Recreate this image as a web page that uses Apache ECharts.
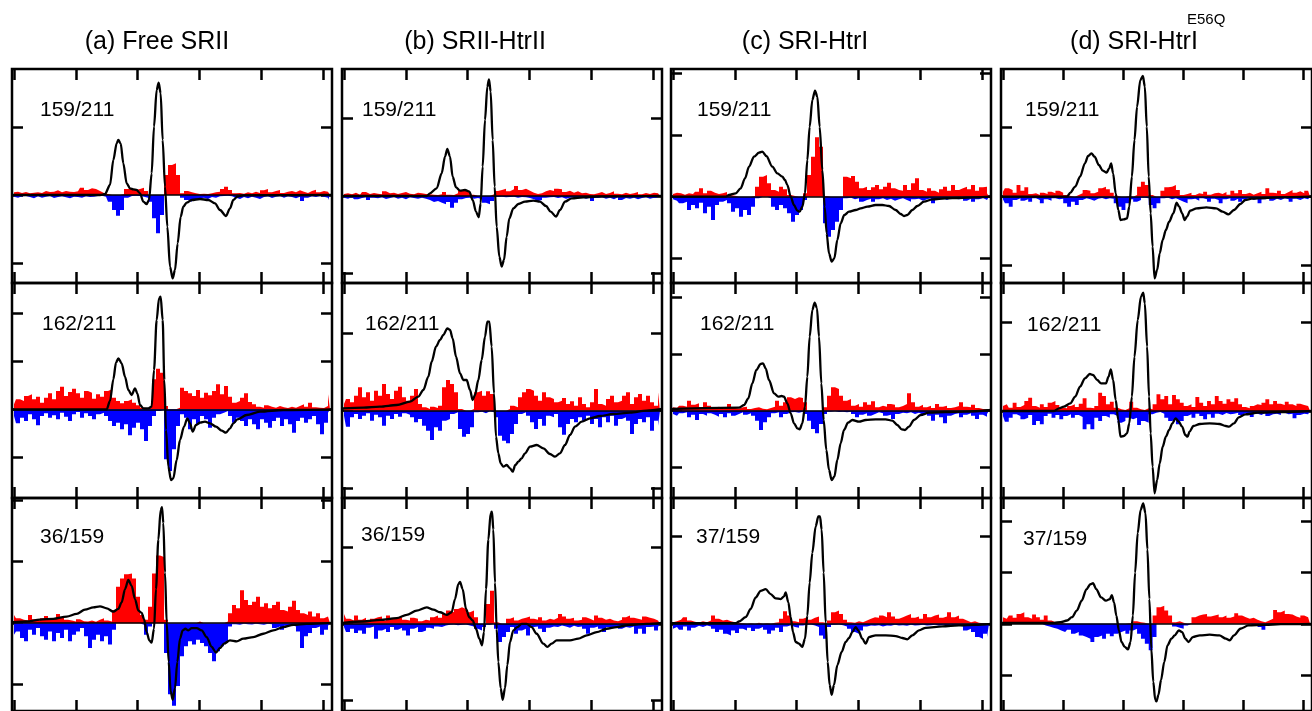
<!DOCTYPE html>
<html>
<head>
<meta charset="utf-8">
<title>EPR spectra with residuals</title>
<script src="https://cdn.jsdelivr.net/npm/echarts@6.0.0/dist/echarts.min.js"></script>
<style>
html,body{margin:0;padding:0;background:#fff}
#chart{width:1312px;height:711px}
</style>
</head>
<body>
<div id="chart"></div>
<script>
// residual bins: field position of each bin (80 bins across the sweep)
var binField = [];
for (var i = 0; i < 80; i++) binField.push(42 + 12 * i);

// ---- row 1 : 159/211 ----
var red_a1 = [8,10,6,9,5,7,8,6,12,9, 10,14,8,12,10,9,11,22,15,20, 18,12,6,3,0,0,0,2,18,20,
  15,18,22,12,0,0,0,0,60,90, 95,60,5,12,8,5,3,4,3,5, 8,10,18,25,15,5,6,4,8,5,
  10,6,14,18,8,12,15,6,10,12, 8,14,10,6,12,16,8,12,10,14];
var blue_a1 = [-5,-8,-4,-3,-6,-10,-4,-8,-5,-3, -9,-6,-4,-7,-10,-5,-6,-8,-4,-6, -5,-3,-2,-5,-20,-45,-62,-45,-8,-3,
  -2,-3,-5,-8,-20,-70,-115,-60,0,0, 0,0,-8,-15,-20,-12,-10,-8,-12,-6, -8,-4,-3,-2,-4,-8,-12,-6,-10,-5,
  -8,-12,-6,-4,-9,-5,-3,-8,-4,-6, -10,-5,-18,-8,-4,-6,-3,-5,-8,-15];
var line_a1 = [[38,0],[300,0],[315,3],[330,30],[340,105],[350,155],[355,165],[362,155],[370,95],[380,35],[390,20],[400,17],[410,15],[420,5],[430,-20],[440,-27],[447,-15],[455,65],[462,205],[470,315],[476,337],[482,305],[488,165],[495,25],[502,-95],[510,-215],[518,-250],[525,-225],[533,-145],[542,-65],[550,-35],[560,-23],[575,-15],[600,-12],[625,-15],[645,-25],[660,-45],[678,-63],[690,-40],[700,-15],[712,-5],[730,-1],[996,0]];

var red_b1 = [6,8,5,10,4,12,6,9,7,5, 14,8,10,6,9,12,7,5,10,8, 6,5,4,3,5,12,4,3,8,15,
  18,12,4,0,0,0,0,5,15,18, 22,14,20,30,18,22,16,10,6,8, 14,18,15,22,20,12,16,10,14,8,
  10,6,5,8,12,6,9,14,7,5, 10,6,8,12,5,9,6,10,8,12];
var blue_b1 = [-5,-8,-3,-10,-6,-4,-12,-5,-7,-4, -9,-6,-3,-8,-5,-10,-4,-6,-8,-5, -8,-12,-18,-15,-20,-25,-18,-35,-20,-10,
  -6,-5,-8,-6,-10,-20,-25,-15,-3,-2, -4,-3,-2,-5,-3,-4,-6,-10,-15,-12, -5,-4,-3,-6,-4,-8,-5,-3,-6,-4,
  -8,-5,-15,-6,-4,-8,-5,-10,-4,-12, -6,-8,-5,-10,-6,-4,-8,-5,-6,-4];
var line_b1 = [[38,0],[290,0],[300,8],[320,23],[335,68],[345,118],[352,141],[360,118],[368,58],[378,26],[390,16],[405,18],[418,13],[428,-12],[438,-47],[446,-64],[452,-22],[458,88],[465,228],[472,328],[477,350],[482,313],[488,168],[494,28],[500,-92],[508,-182],[515,-212],[522,-192],[530,-122],[538,-67],[550,-37],[565,-24],[585,-17],[610,-14],[630,-17],[648,-30],[662,-47],[678,-62],[690,-42],[705,-17],[725,-7],[760,-4],[800,-2],[996,0]];

var red_c1 = [8,12,10,6,10,8,15,25,10,18, 12,8,10,14,4,3,0,0,0,0, 2,30,60,65,40,20,15,30,22,5,
  2,0,0,10,65,120,178,150,2,0, 0,0,0,60,55,62,45,25,30,20, 28,35,22,30,42,25,20,18,35,20,
  40,55,20,15,25,18,12,22,30,18, 35,20,25,30,22,35,18,28,30,10];
var blue_c1 = [-8,-12,-20,-15,-40,-25,-35,-18,-50,-30, -70,-25,-15,-10,-20,-45,-35,-60,-40,-55, -30,-5,0,0,-5,-30,-40,-25,-35,-50,
  -75,-55,-40,-10,0,0,0,0,-80,-120, -100,-75,-40,-5,-3,-8,-5,-15,-10,-6, -15,-8,-5,-10,-6,-12,-8,-5,-10,-15,
  -8,-6,-12,-8,-5,-20,-8,-5,-10,-4, -6,-8,-5,-12,-6,-15,-8,-4,-10,-5];
var line_c1 = [[38,0],[200,0],[210,5],[230,10],[245,25],[258,55],[270,90],[285,120],[300,132],[310,135],[322,122],[340,90],[355,70],[370,60],[378,50],[385,35],[395,0],[405,-25],[415,-42],[422,-45],[430,-30],[438,10],[445,110],[452,210],[460,290],[468,318],[475,300],[482,210],[490,80],[497,-30],[503,-110],[510,-170],[518,-195],[526,-185],[535,-130],[545,-80],[556,-55],[570,-45],[590,-40],[605,-35],[625,-30],[650,-25],[670,-25],[690,-28],[710,-40],[725,-52],[735,-58],[745,-55],[760,-40],[775,-28],[795,-15],[820,-8],[860,-5],[900,-4],[950,-2],[996,0]];

var red_d1 = [15,25,20,12,35,18,28,8,10,5, 12,8,15,10,18,12,5,2,0,5, 10,20,18,10,15,25,30,22,12,3,
  0,0,2,0,5,30,45,35,5,0, 0,18,28,30,35,20,5,8,12,5, 10,8,15,6,10,12,8,14,6,18,
  10,20,8,12,6,10,15,8,25,12, 10,18,8,14,20,12,16,10,18,12];
var blue_d1 = [-8,-20,-30,-10,-5,-12,-8,-15,-5,-10, -20,-8,-12,-5,-8,-6,-20,-30,-15,-25, -10,-5,-8,-12,-6,-4,-8,-5,-6,-20,
  -30,-40,-20,-8,-15,-10,-3,-5,-25,-35, -20,-5,-3,-8,-5,-10,-15,-20,-8,-6, -12,-5,-8,-15,-6,-10,-20,-8,-5,-12,
  -6,-15,-8,-4,-10,-6,-20,-8,-5,-12, -6,-10,-5,-8,-15,-6,-10,-5,-8,-6];
var line_d1 = [[38,0],[240,0],[250,12],[265,30],[280,60],[295,100],[305,122],[315,130],[325,120],[338,95],[350,78],[362,72],[370,85],[376,100],[382,70],[390,10],[398,-40],[405,-70],[415,-68],[425,-65],[432,-30],[440,60],[448,170],[456,270],[466,350],[474,362],[480,330],[486,210],[492,60],[498,-50],[504,-150],[510,-245],[518,-220],[526,-170],[535,-130],[545,-100],[555,-75],[568,-50],[578,-18],[586,-30],[595,-50],[603,-70],[610,-60],[620,-42],[640,-35],[670,-32],[700,-35],[720,-45],[738,-53],[755,-40],[775,-22],[790,-10],[810,-6],[850,-4],[900,-2],[996,0]];

// ---- row 2 : 162/211 ----
var red_a2 = [15,30,25,40,45,30,38,20,35,48, 30,55,68,40,52,62,48,35,55,50, 32,45,38,55,60,35,25,18,25,30,
  20,12,5,3,5,90,122,110,10,0, 0,5,65,55,48,40,58,35,50,42, 55,75,45,70,38,20,25,35,48,22,
  15,8,5,12,8,5,10,6,4,8, 5,10,15,8,20,6,5,4,10,45];
var blue_a2 = [-20,-42,-25,-35,-15,-30,-48,-20,-12,-25, -18,-30,-10,-22,-35,-15,-8,-25,-12,-20, -30,-15,-10,-20,-35,-50,-40,-60,-45,-78,
  -55,-40,-60,-95,-50,-20,-5,-2,-150,-185, -120,-50,-15,-25,-60,-30,-45,-20,-30,-55, -25,-15,-10,-5,-20,-40,-25,-35,-50,-30,
  -45,-60,-30,-40,-55,-35,-25,-50,-30,-45, -70,-35,-25,-40,-30,-20,-45,-75,-40,-10];
var line_a2 = [[38,0],[320,0],[330,25],[340,90],[348,140],[355,153],[365,138],[375,98],[385,58],[395,43],[405,63],[412,48],[420,13],[430,3],[445,3],[455,8],[462,118],[470,268],[477,333],[482,338],[488,268],[493,88],[498,-62],[505,-172],[513,-212],[520,-207],[530,-152],[540,-92],[552,-52],[562,-27],[570,-42],[578,-67],[588,-47],[600,-40],[615,-37],[630,-42],[648,-52],[665,-64],[678,-70],[690,-57],[700,-42],[712,-30],[740,-17],[780,-7],[850,-2],[996,0]];

var red_b2 = [20,35,25,45,70,40,55,30,60,45, 80,50,35,60,72,40,30,45,65,20, 10,5,12,8,15,70,92,80,55,5,
  0,0,5,55,60,45,58,50,0,0, 0,5,15,10,40,55,65,60,45,30, 55,40,35,25,30,38,20,28,15,40,
  20,10,25,65,20,15,35,45,25,30, 45,55,20,40,50,30,45,25,15,55];
var blue_b2 = [-15,-48,-20,-10,-25,-15,-8,-30,-12,-20, -45,-15,-25,-10,-18,-8,-12,-20,-35,-25, -45,-60,-88,-50,-60,-30,-25,-10,-5,-55,
  -78,-70,-50,-5,-3,-8,-2,-5,-20,-75, -90,-98,-70,-40,-10,-5,-15,-35,-55,-25, -45,-15,-20,-10,-50,-72,-40,-25,-35,-20,
  -30,-15,-40,-25,-50,-20,-35,-15,-45,-25, -20,-30,-70,-40,-25,-35,-20,-60,-30,-45];
var line_b2 = [[38,7],[100,9],[150,12],[200,17],[240,27],[265,42],[280,62],[295,102],[305,147],[318,192],[330,212],[340,227],[352,247],[360,242],[368,217],[378,162],[390,112],[400,92],[410,92],[420,62],[428,32],[435,47],[445,92],[455,152],[465,222],[472,267],[478,267],[485,192],[492,52],[498,-78],[505,-128],[512,-158],[520,-168],[530,-163],[540,-173],[548,-183],[556,-163],[565,-153],[575,-143],[585,-128],[600,-108],[620,-103],[640,-113],[660,-130],[675,-138],[690,-128],[705,-103],[720,-73],[735,-48],[755,-33],[780,-23],[810,-16],[850,-10],[900,-6],[950,0],[996,5]];

var red_c2 = [10,8,15,12,30,18,22,10,25,15, 8,12,6,10,20,8,6,10,12,5, 8,10,6,4,8,12,30,15,25,40,
  35,40,38,25,0,0,0,0,10,45, 70,65,45,30,35,15,20,12,25,18, 28,10,15,12,20,18,10,14,20,52,
  25,12,18,10,15,8,20,12,15,8, 10,14,25,12,10,18,8,5,3,2];
var blue_c2 = [-10,-15,-8,-5,-20,-12,-28,-10,-15,-8, -12,-18,-10,-20,-8,-15,-10,-5,-12,-8, -15,-30,-58,-35,-20,-8,-5,-20,-10,-5,
  -4,-6,-3,-10,-30,-55,-68,-40,-10,-3, -2,-4,-3,-5,-3,-10,-20,-12,-8,-15, -10,-5,-8,-15,-12,-25,-10,-6,-8,-5,
  -10,-6,-12,-8,-15,-30,-12,-20,-38,-15, -10,-8,-20,-12,-8,-15,-25,-12,-18,-10];
var line_c2 = [[38,5],[240,9],[255,17],[268,37],[280,82],[292,122],[305,140],[312,142],[320,127],[330,92],[345,52],[358,42],[368,44],[375,42],[385,22],[395,-8],[405,-38],[415,-53],[422,-56],[430,-38],[438,12],[445,102],[452,222],[460,302],[467,324],[474,307],[480,222],[487,82],[494,-28],[502,-118],[510,-178],[518,-208],[526,-198],[535,-148],[545,-98],[555,-58],[567,-36],[580,-28],[600,-33],[620,-28],[650,-26],[680,-26],[700,-30],[715,-43],[728,-56],[738,-58],[750,-48],[765,-28],[785,-13],[810,-6],[860,-4],[920,-3],[996,2]];

var red_d2 = [15,20,10,25,12,18,30,40,15,10, 20,12,25,30,18,10,8,15,20,12, 22,38,10,8,15,55,45,20,28,10,
  5,3,8,28,10,5,3,8,5,20, 50,35,45,20,48,35,25,15,20,12, 42,25,15,30,20,45,30,22,35,28,
  38,20,12,8,15,20,18,25,35,20, 30,22,18,28,20,15,22,18,15,20];
var blue_d2 = [-15,-32,-20,-10,-15,-25,-20,-12,-42,-30, -40,-15,-8,-20,-12,-25,-15,-10,-20,-12, -18,-55,-40,-55,-20,-30,-15,-20,-10,-15,
  -35,-30,-20,-25,-20,-42,-30,-35,-10,-5, -3,-8,-20,-30,-25,-40,-30,-15,-10,-20, -8,-15,-25,-10,-20,-8,-12,-6,-10,-8,
  -5,-12,-6,-10,-18,-8,-12,-6,-15,-10, -8,-12,-5,-10,-8,-22,-12,-8,-10,-6];
var line_d2 = [[38,0],[200,0],[215,8],[230,13],[250,23],[265,43],[280,73],[295,98],[310,111],[320,108],[333,93],[345,83],[360,83],[368,103],[375,125],[382,93],[390,33],[398,-27],[405,-77],[415,-75],[425,-67],[432,-37],[440,43],[448,163],[458,273],[468,343],[475,355],[480,323],[487,193],[493,43],[498,-67],[504,-167],[510,-247],[518,-207],[526,-157],[535,-107],[545,-77],[555,-57],[565,-37],[575,-22],[585,-32],[595,-47],[605,-72],[612,-77],[618,-62],[630,-45],[650,-39],[680,-37],[710,-39],[730,-45],[740,-47],[755,-37],[770,-19],[790,-10],[830,-5],[900,-3],[996,0]];

// ---- row 3 : 36/159 and 37/159 ----
var red_a3 = [25,15,10,8,25,12,8,15,22,10, 15,28,18,10,8,5,12,6,5,8, 4,10,15,8,5,40,110,135,148,150,
  135,80,25,10,50,150,205,200,10,0, 0,0,0,0,0,0,5,0,0,0, 0,0,0,5,30,55,45,100,70,55,
  65,80,50,60,45,55,65,40,35,50, 68,40,30,25,35,20,30,15,20,18];
var blue_a3 = [-35,-25,-45,-55,-20,-35,-15,-40,-50,-25, -55,-30,-45,-20,-55,-35,-25,-15,-40,-75, -50,-35,-55,-40,-65,-20,0,0,0,0,
  0,0,-5,-35,-10,0,0,0,-90,-215, -250,-190,-100,-70,-55,-65,-50,-60,-70,-90, -115,-85,-70,-60,-10,-3,-5,-2,-3,-4,
  -2,-3,-5,-2,-3,-15,-10,-20,-8,-5, -10,-25,-75,-40,-30,-15,-10,-35,-20,-8];
var line_a3 = [[38,3],[80,5],[120,11],[160,13],[200,20],[230,28],[255,41],[280,48],[300,51],[320,45],[340,35],[355,43],[365,63],[375,103],[385,131],[395,113],[405,73],[415,38],[425,31],[432,13],[440,-27],[448,-52],[455,-59],[462,-17],[468,103],[475,253],[482,343],[486,351],[490,303],[495,153],[500,3],[506,-117],[512,-207],[518,-232],[525,-197],[532,-117],[540,-47],[548,-22],[556,-17],[565,-22],[575,-15],[590,-15],[605,-22],[620,-42],[635,-72],[648,-89],[660,-75],[672,-62],[690,-52],[710,-55],[730,-47],[760,-42],[790,-32],[820,-22],[850,-12],[880,-5],[920,-2],[996,1]];

var red_b3 = [30,15,10,25,12,18,8,15,20,22, 10,25,15,18,20,12,10,18,15,8, 12,10,20,25,18,30,40,35,45,50,
  45,35,40,20,0,0,60,100,5,0, 0,15,20,10,15,18,22,15,12,20, 10,15,12,18,30,22,15,18,10,12,
  20,15,10,25,18,12,15,10,8,12, 20,25,18,15,12,22,18,15,10,12];
var blue_b3 = [-10,-25,-15,-28,-20,-30,-12,-8,-45,-20, -15,-25,-10,-18,-12,-20,-35,-15,-10,-25, -20,-12,-15,-8,-10,-5,-3,-2,-4,-3,
  -2,-5,-8,-15,-20,-10,-3,0,-15,-55, -40,-25,-10,-30,-20,-15,-35,-10,-8,-15, -25,-12,-8,-10,-5,-8,-12,-6,-10,-8,
  -15,-30,-12,-8,-15,-25,-10,-12,-8,-15, -10,-12,-8,-30,-15,-30,-10,-8,-20,-10];
var line_b3 = [[38,3],[100,7],[150,12],[200,17],[230,27],[260,40],[290,50],[310,43],[330,35],[350,27],[365,35],[375,75],[385,120],[390,127],[398,105],[408,45],[418,20],[428,10],[438,-15],[448,-45],[456,-65],[462,-25],[468,105],[475,255],[482,335],[486,340],[490,285],[495,125],[500,-15],[505,-115],[512,-195],[518,-230],[525,-195],[532,-125],[540,-55],[550,-20],[562,-10],[575,0],[590,0],[605,-10],[620,-30],[640,-60],[652,-70],[665,-60],[680,-50],[700,-50],[720,-50],[745,-45],[770,-35],[800,-25],[830,-15],[860,-10],[900,-3],[950,0],[996,3]];

var red_c3 = [5,8,12,20,10,6,4,8,5,10, 25,15,10,12,8,5,3,2,0,2, 0,3,0,2,0,3,5,15,38,25,
  8,5,15,20,12,18,22,5,2,10, 35,40,30,12,5,3,8,5,10,15, 20,18,25,20,35,22,15,20,25,30,
  18,22,15,30,20,25,28,18,22,35, 20,25,15,10,5,8,3,2,0,0];
var blue_c3 = [-15,-10,-18,-8,-20,-12,-6,-10,-5,-8, -15,-25,-18,-30,-35,-20,-28,-15,-20,-12, -22,-15,-10,-18,-30,-20,-12,-25,-8,-4,
  -10,-12,-5,-3,-2,-5,-10,-35,-45,-10, -3,-2,-4,-8,-15,-25,-30,-20,-8,-5, -6,-4,-8,-5,-6,-3,-5,-4,-6,-3,
  -5,-4,-3,-5,-4,-3,-5,-3,-4,-3, -5,-6,-8,-20,-15,-25,-40,-45,-30,-40];
var line_c3 = [[38,2],[230,2],[240,7],[260,20],[275,45],[290,80],[305,100],[320,105],[335,90],[350,77],[365,75],[375,83],[380,95],[388,65],[395,20],[402,-25],[410,-55],[420,-60],[430,-70],[438,-45],[445,25],[452,125],[460,215],[470,295],[478,325],[483,325],[488,285],[494,155],[500,5],[506,-115],[512,-185],[518,-215],[525,-185],[535,-125],[548,-85],[560,-55],[570,-43],[580,-25],[590,-10],[598,-20],[610,-45],[620,-60],[630,-40],[650,-35],[680,-35],[710,-37],[730,-43],[745,-47],[760,-35],[780,-20],[800,-12],[850,-8],[900,-5],[950,-3],[996,0]];

var red_d3 = [20,15,25,18,30,35,20,15,28,20, 12,25,10,5,3,2,0,0,0,0, 0,0,0,0,0,0,0,0,0,0,
  0,0,2,0,8,5,3,0,0,25, 50,55,40,25,5,8,3,0,2,20, 25,28,30,22,25,28,20,25,18,22,
  32,25,20,15,18,12,8,5,10,15, 42,35,40,30,28,22,18,25,20,15];
var blue_d3 = [0,0,0,0,0,0,0,0,0,0, 0,-5,-8,-12,-15,-20,-25,-18,-30,-25, -35,-40,-45,-55,-40,-35,-45,-30,-38,-30,
  -25,-20,-30,-20,-15,-30,-45,-60,-80,-40, 0,0,0,0,-8,-12,-15,-5,0,0, 0,0,0,0,0,0,0,0,0,0,
  0,0,0,0,-5,-3,-10,-18,-5,0, 0,0,0,0,0,0,0,0,0,0];
var line_d3 = [[38,3],[200,3],[220,5],[240,10],[255,20],[270,40],[285,70],[300,105],[312,120],[320,123],[330,105],[345,80],[360,70],[372,75],[378,87],[385,65],[392,25],[400,-20],[408,-55],[418,-70],[428,-77],[436,-55],[443,25],[450,155],[458,275],[467,345],[475,365],[482,335],[488,225],[494,75],[500,-75],[506,-175],[512,-230],[516,-235],[522,-215],[530,-170],[540,-115],[550,-65],[562,-45],[572,-35],[585,-20],[595,-25],[605,-45],[615,-55],[628,-40],[650,-35],[680,-33],[710,-35],[730,-45],[742,-50],[755,-35],[775,-15],[800,-5],[850,-3],[900,-1],[996,0]];

var columnTitles = ['(a) Free SRII', '(b) SRII-HtrII', '(c) SRI-HtrI', '(d) SRI-HtrI'];
var xTicks = [42, 228, 413, 598, 784, 969];

// layout of the panel grid
var colLeft = [12, 342, 671, 1001];
var colWidth = 320;
var rowTop = [69, 283, 498];
var rowBottom = [283, 498, 713];
var rowCrop = [0, 280, 490];

var panels = [
  {col:0,row:0,zero:585,step:204,label:'159/211',lx:40,ly:110,red:red_a1,blue:blue_a1,line:line_a1},
  {col:1,row:0,zero:588,step:232,label:'159/211',lx:362,ly:110,red:red_b1,blue:blue_b1,line:line_b1},
  {col:2,row:0,zero:590,step:185,label:'159/211',lx:697,ly:110,red:red_c1,blue:blue_c1,line:line_c1},
  {col:3,row:0,zero:590,step:207,label:'159/211',lx:1025,ly:110,red:red_d1,blue:blue_d1,line:line_d1},
  {col:0,row:1,zero:388,step:144,label:'162/211',lx:42,ly:324,red:red_a2,blue:blue_a2,line:line_a2},
  {col:1,row:1,zero:392,step:232,label:'162/211',lx:365,ly:324,red:red_b2,blue:blue_b2,line:line_b2},
  {col:2,row:1,zero:392,step:170,label:'162/211',lx:700,ly:324,red:red_c2,blue:blue_c2,line:line_c2},
  {col:3,row:1,zero:393,step:267,label:'162/211',lx:1027,ly:325,red:red_d2,blue:blue_d2,line:line_d2},
  {col:0,row:2,zero:403,step:186,label:'36/159',lx:40,ly:537,red:red_a3,blue:blue_a3,line:line_a3},
  {col:1,row:2,zero:405,step:232,label:'36/159',lx:361,ly:535,red:red_b3,blue:blue_b3,line:line_b3},
  {col:2,row:2,zero:405,step:264,label:'37/159',lx:696,ly:537,red:red_c3,blue:blue_c3,line:line_c3},
  {col:3,row:2,zero:405,step:156,label:'37/159',lx:1023,ly:539,red:red_d3,blue:blue_d3,line:line_d3}
];

var FONT = "'Liberation Sans', Arial, Helvetica, sans-serif";

function tickOpt(values) {
  return {show:true, inside:true, length:11, customValues:values, lineStyle:{color:'#000', width:2.5}};
}

function binned(vals) {
  return vals.map(function (v, k) { return [binField[k], v]; });
}

var grids = [], xAxes = [], yAxes = [], series = [], texts = [];

panels.forEach(function (p, g) {
  var top = rowTop[p.row], bottom = rowBottom[p.row];
  var zeroPx = rowCrop[p.row] + p.zero / 3;
  var yMax = 3 * (zeroPx - top), yMin = 3 * (zeroPx - bottom);
  var yTicks = [];
  for (var k = Math.ceil(yMin / p.step); k * p.step < yMax; k++) yTicks.push(k * p.step);

  grids.push({left:colLeft[p.col], top:top, width:colWidth, height:bottom - top,
    show:true, borderColor:'#000', borderWidth:2.5, backgroundColor:'transparent'});

  ['bottom', 'top'].forEach(function (pos) {
    xAxes.push({gridIndex:g, type:'value', position:pos, min:36, max:996,
      axisLine:{show:false, onZero:false}, splitLine:{show:false}, axisLabel:{show:false},
      axisTick:tickOpt(xTicks)});
  });
  ['left', 'right'].forEach(function (pos) {
    yAxes.push({gridIndex:g, type:'value', position:pos, min:yMin, max:yMax,
      axisLine:{show:false, onZero:false}, splitLine:{show:false}, axisLabel:{show:false},
      axisTick:tickOpt(yTicks)});
  });

  var common = {type:'line', xAxisIndex:2 * g, yAxisIndex:2 * g, showSymbol:false, symbol:'none', silent:true};
  series.push(Object.assign({}, common, {
    data:binned(p.red), step:'middle', lineStyle:{width:0}, areaStyle:{color:'#ff0000', opacity:1}
  }));
  series.push(Object.assign({}, common, {
    data:binned(p.blue), step:'middle', lineStyle:{width:0}, areaStyle:{color:'#0000ff', opacity:1}
  }));
  series.push(Object.assign({}, common, {
    data:p.line, smooth:0.3, smoothMonotone:'x',
    lineStyle:{color:'#000', width:2.3},
    markLine:{silent:true, symbol:['none', 'none'], label:{show:false},
      lineStyle:{color:'#000', width:1.5, type:'solid'}, data:[{yAxis:0}]}
  }));

  texts.push({type:'text', x:p.lx, y:p.ly,
    style:{text:p.label, font:'21px ' + FONT, fill:'#000', textAlign:'left', textVerticalAlign:'middle'}});
});

var titleX = [157, 475, 805, 1134];
columnTitles.forEach(function (t, c) {
  texts.push({type:'text', x:titleX[c], y:42,
    style:{text:t, font:'25px ' + FONT, fill:'#000', textAlign:'center', textVerticalAlign:'middle'}});
});
texts.push({type:'text', x:1187, y:20,
  style:{text:'E56Q', font:'15px ' + FONT, fill:'#000', textAlign:'left', textVerticalAlign:'middle'}});

var chart = echarts.init(document.getElementById('chart'));
chart.setOption({
  animation:false,
  backgroundColor:'#fff',
  grid:grids,
  xAxis:xAxes,
  yAxis:yAxes,
  series:series,
  graphic:{elements:texts}
});
</script>
</body>
</html>
